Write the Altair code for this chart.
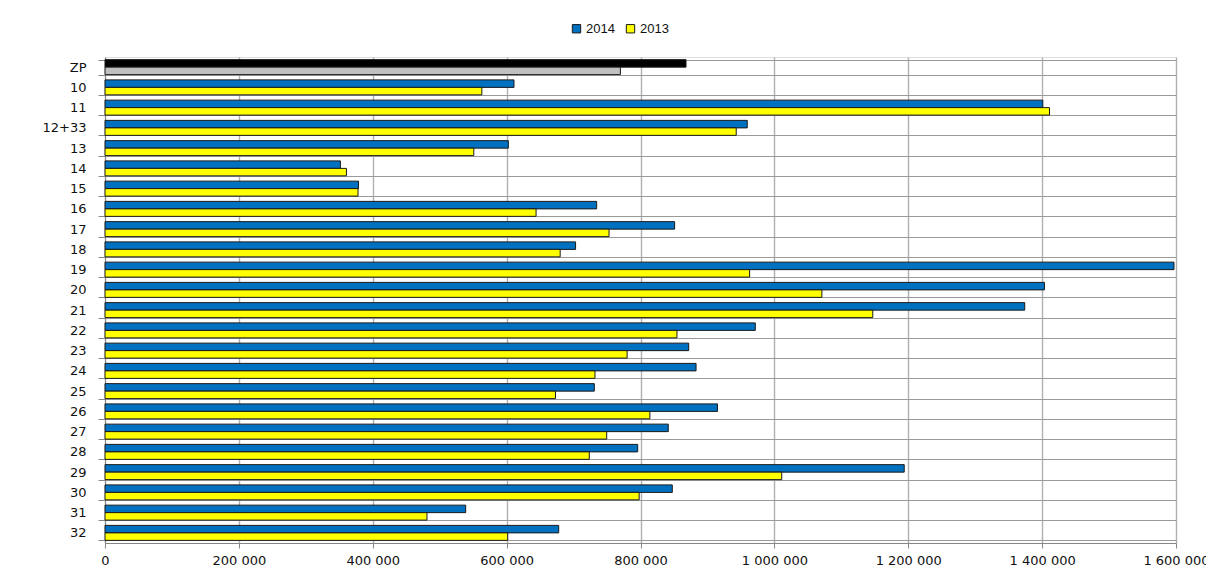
import altair as alt
import pandas as pd

categories = ["ZP", "10", "11", "12+33", "13", "14", "15", "16", "17", "18", "19", "20",
              "21", "22", "23", "24", "25", "26", "27", "28", "29", "30", "31", "32"]
values_2014 = [868000, 611000, 1401000, 959500, 602600, 351700, 378700, 734500, 851000,
               703000, 1597000, 1403500, 1374000, 971500, 872000, 883000, 731000, 915000,
               841500, 795800, 1194000, 847500, 538800, 677800]
values_2013 = [770000, 563000, 1411000, 943000, 551000, 360700, 378000, 644000, 753000,
               680000, 963000, 1071000, 1147000, 854500, 780000, 732000, 673000, 814000,
               749500, 723500, 1011000, 798000, 481000, 601600]
series = ["2014", "2013"]
tick_values = [0, 200000, 400000, 600000, 800000, 1000000, 1200000, 1400000, 1600000]

color_domain = ["2014", "2013", "ZP 2014", "ZP 2013"]
color_range = ["#0070C0", "#FFFF00", "#000000", "#C0C0C0"]

rows = []
for cat, v14, v13 in zip(categories, values_2014, values_2013):
    for s, v in (("2014", v14), ("2013", v13)):
        key = ("ZP " + s) if cat == "ZP" else s
        rows.append({"cat": cat, "series": s, "value": v, "key": key})
df = pd.DataFrame(rows)

label_expr = "replace(replace(format(datum.value, ',d'), ',', ' '), ',', ' ')"

chart = alt.Chart(df).mark_bar(stroke="#1a1a1a", strokeWidth=1).encode(
    y=alt.Y("cat:N", sort=categories, title=None,
            scale=alt.Scale(paddingInner=0.26, paddingOuter=0.13),
            axis=alt.Axis(tickBand="extent", grid=True, gridColor="#9a9a9a", gridWidth=1.2,
                          domainColor="#868686", tickColor="#868686", tickSize=7,
                          labelPadding=12, labelFont="DejaVu Sans", labelFontSize=13,
                          labelColor="#111111", minExtent=92, maxExtent=92)),
    yOffset=alt.YOffset("series:N", sort=series),
    x=alt.X("value:Q", title=None,
            scale=alt.Scale(domain=[0, 1600000], nice=False),
            axis=alt.Axis(values=tick_values, labelExpr=label_expr, grid=True,
                          gridColor="#b0b0b0", gridWidth=1.4, domainColor="#868686",
                          tickColor="#868686", tickSize=5, labelPadding=6,
                          labelFont="DejaVu Sans", labelFontSize=13, labelColor="#111111",
                          labelFlush=False)),
    color=alt.Color("key:N", title=None,
                    scale=alt.Scale(domain=color_domain, range=color_range),
                    legend=alt.Legend(values=series, orient="none", direction="horizontal",
                                      legendX=465, legendY=-35, symbolType="square",
                                      symbolSize=70, symbolStrokeColor="#1a1a1a",
                                      symbolStrokeWidth=1, labelFont="Liberation Sans",
                                      labelFontSize=13, labelColor="#111111",
                                      columnPadding=9, labelOffset=3)),
).properties(
    width=1071, height=486,
    autosize=alt.AutoSizeParams(type="none"),
    padding={"left": 97, "top": 49, "right": 30, "bottom": 30},
).configure_view(stroke=None).configure(background="white")

chart.save("out.html", embed_options={"renderer": "svg", "actions": False})
